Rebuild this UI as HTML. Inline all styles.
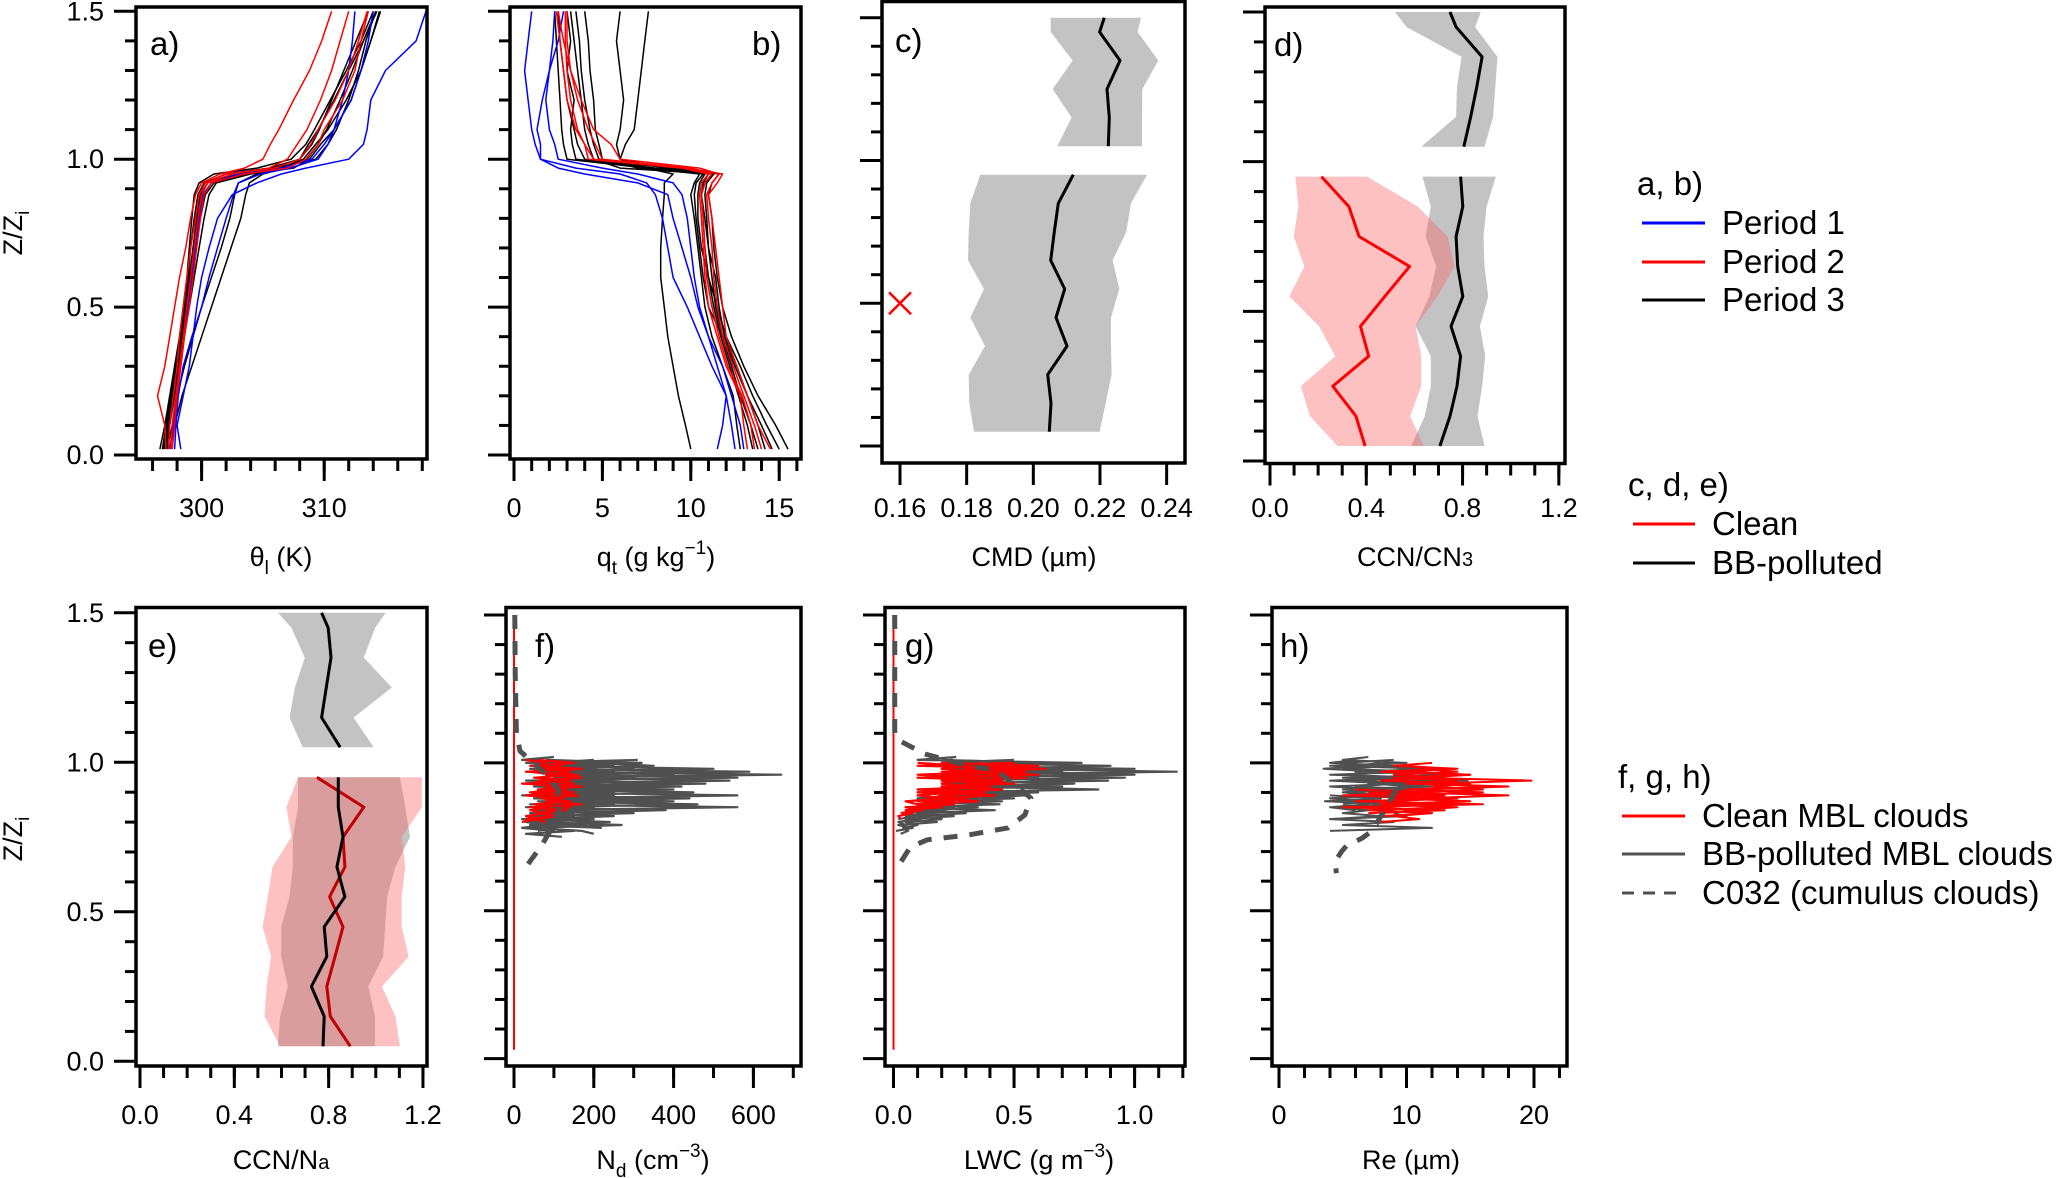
<!DOCTYPE html>
<html><head><meta charset="utf-8">
<style>
html,body{margin:0;padding:0;background:#fff;}
svg{display:block;font-family:"Liberation Sans",Arial,sans-serif;}
</style></head>
<body>
<svg id="fig" width="2067" height="1178" viewBox="0 0 2067 1178" xmlns="http://www.w3.org/2000/svg"></svg>
<script>
// ---------- DATA ----------
const zA = [0.02,0.1,0.2,0.3,0.4,0.5,0.6,0.7,0.8,0.88,0.92,0.95,0.97,1.0,1.05,1.1,1.2,1.3,1.4,1.5];
const thetaBlack = [
 [297.0,297.3,297.6,298.0,298.3,298.6,298.9,299.1,299.4,299.7,300.2,302.0,305.5,308.0,309.0,309.6,310.6,311.6,312.6,313.6],
 [296.6,297.0,297.4,297.8,298.2,298.5,298.8,299.0,299.2,299.4,299.8,301.0,304.5,307.3,308.5,309.2,310.5,311.8,313.0,314.0],
 [297.4,297.8,298.4,299.2,300.0,300.8,301.6,302.4,303.2,303.6,303.9,305.0,306.8,308.6,309.5,310.2,311.3,312.3,313.2,314.2],
 [297.2,297.6,298.0,298.6,299.3,300.0,300.8,301.6,302.3,302.7,303.0,304.5,306.5,308.3,309.3,310.3,311.8,313.0,313.8,314.5],
 [296.8,297.1,297.5,297.9,298.3,298.7,299.0,299.3,299.6,299.9,300.5,303.0,306.0,309.3,310.3,311.0,312.0,312.8,313.4,314.2],
 [297.1,297.4,297.8,298.1,298.4,298.7,299.1,299.5,299.9,300.3,301.0,303.5,307.5,308.8,309.7,310.8,312.2,313.0,313.8,314.6],
 [296.9,297.2,297.6,298.0,298.5,299.0,299.4,299.8,300.2,300.6,301.2,304.0,307.0,308.0,308.7,309.5,310.8,312.0,313.2,314.3]
];
const thetaRed = [
 [297.1,297.0,296.4,297.0,297.4,297.8,298.2,298.7,299.1,299.5,300.0,301.5,303.5,305.0,305.6,306.3,307.5,308.8,309.8,310.6],
 [297.5,297.6,297.9,298.2,298.5,298.8,299.1,299.4,299.7,300.0,300.5,302.5,305.5,307.0,307.8,308.6,309.7,310.6,311.3,312.0],
 [297.3,297.4,297.7,298.0,298.2,298.5,298.8,299.1,299.5,299.8,300.3,302.0,306.0,308.0,308.9,309.5,310.9,312.0,312.8,313.5],
 [297.6,297.8,298.0,298.3,298.6,299.0,299.3,299.6,299.9,300.2,300.8,303.5,307.0,308.5,309.5,310.0,311.5,312.5,313.0,313.6]
];
const thetaBlue = [
 [298.3,298.0,298.5,299.0,299.3,299.6,300.0,300.6,301.3,302.5,304.5,306.5,308.5,312.0,313.2,313.5,313.8,315.0,317.5,318.3],
 [297.8,297.9,298.1,298.5,299.2,300.0,300.6,301.3,302.0,302.6,303.0,304.8,307.2,309.5,310.3,310.8,311.5,312.0,312.3,312.5],
 [297.4,297.7,298.0,298.3,298.6,298.9,299.2,299.5,299.8,300.1,300.8,303.0,306.5,309.0,310.0,310.8,312.2,313.0,313.6,314.0]
];
const qBlack = [
 [15.0,14.3,13.5,12.8,12.0,11.5,11.0,10.8,10.7,10.6,10.7,11.0,8.0,3.5,3.3,3.2,3.4,3.0,3.2,3.0],
 [14.2,13.8,13.2,12.5,11.8,11.4,11.2,11.0,10.9,10.8,10.9,11.3,6.0,4.5,4.2,4.0,3.8,3.6,3.4,3.2],
 [10.0,9.7,9.3,9.0,8.7,8.5,8.3,8.3,8.4,8.5,8.5,9.0,7.5,6.0,6.3,6.8,7.0,7.2,7.4,7.6],
 [15.5,14.8,13.8,13.0,12.3,11.8,11.5,11.3,11.2,11.0,11.2,11.6,9.0,4.0,3.6,3.4,3.0,2.8,2.6,2.5],
 [13.5,13.2,12.7,12.2,11.7,11.3,11.0,10.6,10.4,10.4,10.5,10.8,7.0,5.0,4.8,4.6,4.5,4.3,4.2,4.0],
 [14.6,14.0,13.2,12.6,11.9,11.6,11.4,11.0,10.8,10.6,10.8,11.2,8.5,6.0,5.8,6.0,6.2,6.0,5.8,6.0],
 [12.8,12.6,12.4,11.8,11.2,10.8,10.6,10.4,10.2,10.0,10.2,10.5,7.5,3.0,2.8,2.7,2.6,2.5,2.4,2.3],
 [13.8,13.4,12.8,12.3,11.8,11.0,10.7,10.5,10.3,10.2,10.3,10.7,9.0,4.8,4.5,4.3,4.0,3.8,3.7,3.5]
];
const qRed = [
 [14.0,13.6,13.0,12.4,11.8,11.5,11.3,11.2,11.0,10.9,11.2,11.6,10.5,6.0,5.5,4.5,3.8,3.2,2.8,2.5],
 [13.2,13.0,12.8,12.0,11.5,11.0,10.8,10.7,10.6,10.5,10.6,11.0,9.5,4.2,4.0,3.6,3.2,3.0,2.9,2.9],
 [14.5,13.8,13.2,12.6,12.0,11.8,11.6,11.4,11.2,11.0,11.5,11.8,9.8,5.0,4.6,4.2,3.6,3.2,3.0,3.0],
 [13.6,13.4,12.9,12.1,11.6,11.2,10.9,10.8,10.7,10.6,10.8,11.2,10.0,4.5,4.0,3.5,3.0,2.8,2.6,2.4]
];
const qBlue = [
 [11.5,11.8,12.0,11.2,10.5,9.8,9.0,8.7,8.4,8.0,7.5,6.0,3.5,1.5,1.2,1.0,0.8,0.6,0.8,1.0],
 [13.0,12.8,12.3,11.8,11.0,10.4,10.0,9.5,9.0,8.7,7.0,4.0,2.5,1.5,1.5,1.3,1.6,2.0,2.2,2.3],
 [12.5,12.3,12.0,11.5,11.0,10.5,10.2,10.0,9.8,9.5,9.0,7.0,5.0,2.5,2.3,2.0,1.8,2.0,2.5,2.8]
];
const zLow = [0.05,0.15,0.25,0.35,0.45,0.55,0.65,0.75,0.85,0.95];
const zUpC = [1.05,1.15,1.25,1.35,1.45,1.5];
const cmdMeanLow = [0.2048,0.2053,0.2043,0.2101,0.2068,0.2094,0.2052,0.2063,0.2075,0.2120];
const cmdLeftLow = [0.1822,0.1808,0.1806,0.1855,0.1811,0.1852,0.1804,0.1806,0.1811,0.1841];
const cmdRightLow = [0.2199,0.2217,0.2235,0.2233,0.2233,0.2258,0.2238,0.2279,0.2293,0.2341];
const cmdMeanUp = [0.2225,0.2228,0.2221,0.2260,0.2199,0.2213];
const cmdLeftUp = [0.2072,0.2115,0.2058,0.2118,0.2052,0.2052];
const cmdRightUp = [0.2326,0.2326,0.2327,0.2375,0.2313,0.2323];
const cmdClean = [0.16];
const cmdCleanZ = [0.5];

const ccnMeanLow = [0.706,0.748,0.777,0.792,0.752,0.801,0.780,0.773,0.801,0.792];
const ccnLeftLow = [0.586,0.643,0.668,0.668,0.605,0.662,0.690,0.647,0.668,0.633];
const ccnRightLow = [0.891,0.862,0.881,0.894,0.872,0.907,0.891,0.887,0.900,0.938];
const ccnCleanMean = [0.395,0.357,0.261,0.410,0.376,0.477,0.580,0.370,0.328,0.214];
const ccnCleanLeft = [0.280,0.166,0.128,0.271,0.204,0.080,0.143,0.099,0.118,0.105];
const ccnCleanRight = [0.639,0.582,0.628,0.628,0.605,0.696,0.767,0.738,0.614,0.404];
const ccnMeanUp = [0.805,0.834,0.859,0.881,0.773,0.748];
const ccnLeftUp = [0.628,0.773,0.777,0.796,0.567,0.519];
const ccnRightUp = [0.891,0.927,0.936,0.945,0.852,0.876];

const zUpE = [1.05,1.15,1.25,1.35,1.45,1.5];
const naMeanUp = [0.849,0.770,0.790,0.810,0.798,0.770];
const naLeftUp = [0.690,0.634,0.657,0.699,0.642,0.585];
const naRightUp = [0.991,0.906,1.068,0.949,0.997,1.042];
const naMeanLow = [0.776,0.781,0.727,0.792,0.781,0.869,0.835,0.861,0.841,0.841];
const naLeftLow = [0.585,0.594,0.627,0.599,0.599,0.634,0.648,0.648,0.670,0.670];
const naRightLow = [0.997,0.997,0.968,1.031,1.040,1.048,1.083,1.145,1.125,1.102];
const naCleanMean = [0.892,0.807,0.792,0.827,0.861,0.804,0.869,0.861,0.949,0.750];
const naCleanLeft = [0.594,0.528,0.537,0.556,0.520,0.542,0.562,0.642,0.621,0.670];
const naCleanRight = [1.102,1.083,1.026,1.139,1.110,1.110,1.125,1.110,1.196,1.196];

const zCloud = [1.02,1.01,1.00,0.99,0.98,0.97,0.96,0.95,0.94,0.93,0.92,0.91,0.90,0.89,0.88,0.87,0.86,0.85,0.84,0.83,0.82,0.81,0.80,0.79,0.78,0.77,0.76,0.75];
const ndPolluted = [
 [null,80,320,60,500,30,670,100,540,40,420,70,450,20,440,60,460,30,380,40,250,20,240,50,220,null,null,null],
 [100,20,200,350,40,590,80,560,30,480,50,400,60,560,80,400,40,560,70,300,30,200,60,270,40,170,200,null],
 [null,310,30,250,150,420,100,300,200,350,60,300,120,250,50,300,150,200,60,220,100,150,40,180,60,150,30,120],
 [null,null,150,200,300,100,400,250,150,300,200,100,250,180,300,120,250,150,80,150,60,100,30,80,20,100,60,null],
 [null,200,100,180,80,250,120,200,90,150,300,80,200,100,150,200,60,150,100,50,150,80,120,40,100,60,null,null]
];
const ndClean = [
 [null,60,150,40,170,30,160,50,140,20,170,60,150,30,120,80,170,40,130,60,100,30,null,null,null,null,null,null],
 [null,null,100,120,60,140,90,170,60,150,100,130,50,160,90,120,60,140,90,70,110,50,80,null,null,null,null,null],
 [null,30,80,60,110,40,100,70,120,50,90,110,40,100,70,140,50,90,40,80,30,60,20,null,null,null,null,null]
];
const ndCumZ = [1.5,1.3,1.1,1.04,0.97,0.91,0.85,0.78,0.72,0.645];
const ndCum = [2,3,6,15,73,111,115,95,69,28];

const lwcPolluted = [
 [0.26,0.1,0.78,0.2,1.0,0.3,0.9,0.1,0.89,0.2,0.7,0.1,0.6,0.2,0.5,0.1,0.44,0.05,0.42,0.1,0.25,0.05,0.18,0.02,0.08,0.01,null,null],
 [null,0.5,0.2,0.9,0.4,1.175,0.3,0.96,0.2,0.75,0.3,0.85,0.1,0.55,0.2,0.45,0.1,0.35,0.15,0.3,0.1,0.2,0.05,0.1,0.04,0.06,0.03,null],
 [null,0.2,0.6,0.3,0.8,0.5,1.0,0.3,0.7,0.4,0.5,0.3,0.45,0.2,0.35,0.3,0.2,0.25,0.1,0.15,0.05,0.1,0.02,0.05,null,null,null,null],
 [null,null,0.4,0.6,0.2,0.7,0.4,0.6,0.3,0.5,0.2,0.4,0.3,0.35,0.1,0.25,0.15,0.1,0.2,0.05,0.1,0.02,null,null,null,null,null,null]
];
const lwcClean = [
 [null,null,0.5,0.1,0.63,0.2,0.6,0.1,0.45,0.3,0.4,0.1,0.38,0.2,0.3,0.1,0.25,0.05,0.12,0.03,null,null,null,null,null,null,null,null],
 [null,null,0.2,0.6,0.3,0.55,0.2,0.55,0.3,0.5,0.2,0.45,0.1,0.42,0.2,0.35,0.1,0.2,0.05,0.08,0.02,0.03,null,null,null,null,null,null],
 [null,null,0.35,0.4,0.5,0.3,0.45,0.35,0.2,0.4,0.3,0.25,0.3,0.2,0.15,0.25,0.1,0.15,0.05,null,null,null,null,null,null,null,null,null],
 [null,null,0.1,0.3,0.2,0.4,0.1,0.3,0.25,0.2,0.35,0.15,0.25,0.1,0.2,0.05,0.1,null,null,null,null,null,null,null,null,null,null,null]
];
const lwcCumZ = [1.5,1.3,1.1,1.077,1.03,0.99,0.976,0.93,0.881,0.824,0.78,0.756,0.74,0.716,0.638];
const lwcCum = [0.005,0.005,0.005,0.02,0.13,0.31,0.42,0.5,0.57,0.545,0.475,0.31,0.14,0.07,0.01];

const rePolluted = [
 [null,6,4,9,5,11,4,12,6,10,4,8,5,9,4,7,5,null,null,null,null,null,null,null,null,null,null,null],
 [7,5,10,4,12,6,14,5,13,7,11,5,9,6,10,null,null,null,null,null,null,null,null,null,null,null,null,null],
 [null,null,8,6,11,8,13,9,14.8,8,12,7,10,6,8,5,7,4,6,null,null,null,null,null,null,null,null,null],
 [null,null,null,null,null,null,null,null,null,null,null,null,null,null,null,null,null,null,null,9,10,4,9,5,12,4,null,null],
 [null,9,5,7,3.5,8,5,10,4,9,6,11,5,8,4,null,null,null,null,null,null,null,null,null,null,null,null,null],
 [null,null,null,null,null,null,null,null,null,null,null,null,null,4,8,3.6,9,4.5,7,5,8,4,null,null,null,null,null,null]
];
const reClean = [
 [null,null,12,9,14,10,15,11,19.8,12,17,10,16,9,14,8,13,7,12,null,null,null,null,null,null,null,null,null],
 [null,null,null,10,13,8,15,9,14,10,18,11,15,9,13,8,12,7,11,8,null,null,null,null,null,null,null,null],
 [null,null,null,null,11,14,9,13,8,15,12,16,10,18,11,14,9,13,7,12,8,null,null,null,null,null,null,null],
 [null,null,null,null,null,null,null,null,null,null,null,null,7,13,9,15,8,14,10,12,9,11,8,null,null,null,null,null],
 [null,null,null,null,null,null,null,null,null,null,null,6,12,5,14,6,16,5,13,7,null,null,null,null,null,null,null,null]
];
const reCumZ = [0.91,0.87,0.77,0.745,0.72,0.70,0.666,0.627];
const reCum = [9.2,8.7,7.3,6.5,5.3,4.9,4.4,4.5];

const baseZ = [0.03,1.49];
const baseV = [0,0];

const zTickLabels = ['0.0','0.5','1.0','1.5'];
const ticksA = [300,310]; const ticksB = [0,5,10,15];
const ticksC = [0.16,0.18,0.20,0.22,0.24];
const ticksD = [0.0,0.4,0.8,1.2]; const ticksE = [0.0,0.4,0.8,1.2];
const ticksF = [0,200,400,600]; const ticksG = [0.0,0.5,1.0]; const ticksH = [0,10,20];

// ---------- GEOMETRY ----------
const P = {
 a:{x1:136,y1:7,x2:427,y2:459,y0:455,y15:11.3,xo:201.6,xv:300,xs:12.26,minor:[296,318,2],dec:0},
 b:{x1:510,y1:7,x2:801,y2:459,y0:455,y15:11.3,xo:514,xv:0,xs:17.68,minor:[0,16,1],dec:0},
 c:{x1:882,y1:1.5,x2:1185,y2:463,y0:446,y15:17.7,xo:900,xv:0.16,xs:3333,minor:null,dec:2},
 d:{x1:1265,y1:7,x2:1565,y2:463.5,y0:461,y15:12,xo:1270,xv:0,xs:240.7,minor:[0,1.2,0.1],dec:1},
 e:{x1:136,y1:607.5,x2:427,y2:1066,y0:1061.3,y15:612.8,xo:140,xv:0,xs:235.8,minor:[0,1.2,0.1],dec:1},
 f:{x1:506,y1:607.5,x2:801,y2:1066,y0:1058.6,y15:615,xo:514,xv:0,xs:0.399,minor:[0,700,100],dec:0},
 g:{x1:885,y1:607.5,x2:1185,y2:1066,y0:1058.6,y15:615,xo:893.5,xv:0,xs:241.1,minor:[0,1.2,0.1],dec:1},
 h:{x1:1272,y1:607.5,x2:1567,y2:1066,y0:1058.6,y15:615,xo:1279,xv:0,xs:12.75,minor:[0,22,2],dec:0}
};
const NS='http://www.w3.org/2000/svg';
const svg=document.getElementById('fig');
function mk(tag,parent,attrs){const e=document.createElementNS(NS,tag);for(const k in attrs)e.setAttribute(k,attrs[k]);parent.appendChild(e);return e;}
function X(p,v){return p.xo+(v-p.xv)*p.xs;}
function Y(p,z){return p.y0-(z/1.5)*(p.y0-p.y15);}
function linePath(p,zs,vs){let d='',pen=false;for(let i=0;i<zs.length;i++){const v=vs[i];if(v===null||v===undefined){pen=false;continue;}d+=(pen?'L':'M')+X(p,v).toFixed(1)+' '+Y(p,zs[i]).toFixed(1);pen=true;}return d;}
function bandPath(p,zs,l,r){let d='';for(let i=0;i<zs.length;i++)d+=(i?'L':'M')+X(p,l[i]).toFixed(1)+' '+Y(p,zs[i]).toFixed(1);for(let i=zs.length-1;i>=0;i--)d+='L'+X(p,r[i]).toFixed(1)+' '+Y(p,zs[i]).toFixed(1);return d+'Z';}

function axes(key,g,ticks,isLeftLabeled,labelY){
 const p=P[key];
 const cp=mk('clipPath',g,{id:'clip-'+key});
 mk('rect',cp,{x:p.x1,y:p.y1,width:p.x2-p.x1,height:p.y2-p.y1});
 const yt=mk('g',g,{stroke:'#000','stroke-width':3});
 
 
 for(let i=0;i<=15;i++){const y=Y(p,i/10);const major=(i%5===0);mk('line',yt,{x1:p.x1-(major?22:11),x2:p.x1-1,y1:y,y2:y});}
 if(isLeftLabeled){
  for(let i=0;i<zTickLabels.length;i++){const t=mk('text',g,{x:p.x1-32,y:Y(p,i*0.5)+9,'font-size':27,'text-anchor':'end',fill:'#000'});t.textContent=zTickLabels[i];
   
   }
 }
 const xt=mk('g',g,{stroke:'#000','stroke-width':3});
 
 
 if(p.minor){for(let v=p.minor[0];v<=p.minor[1]+1e-9;v+=p.minor[2]){mk('line',xt,{x1:X(p,v),x2:X(p,v),y1:p.y2+1,y2:p.y2+12});}}
 for(const v of ticks){mk('line',xt,{x1:X(p,v),x2:X(p,v),y1:p.y2+1,y2:p.y2+22});
  const t=mk('text',g,{x:X(p,v),y:labelY,'font-size':27,'text-anchor':'middle',fill:'#000'});t.textContent=v.toFixed(p.dec);
  
  }
}
function frame(key,g){const p=P[key];const r=mk('rect',g,{x:p.x1,y:p.y1,width:p.x2-p.x1,height:p.y2-p.y1,fill:'none',stroke:'#000','stroke-width':3.5});
 
 }
function panelLabel(g,txt,x,y){const t=mk('text',g,{x:x,y:y,'font-size':33,fill:'#000'});t.textContent=txt;
 
 }
function title(g,html,x,y){const t=mk('text',g,{x:x,y:y,'font-size':27,'text-anchor':'middle',fill:'#000'});t.innerHTML=html;
 
 }
function plotLines(key,g,zs,arr,color,w,name,extra){const p=P[key];const gg=mk('g',g,{'clip-path':'url(#clip-'+key+')',fill:'none',stroke:color,'stroke-width':w,'stroke-linejoin':'round'});
 
 
 for(const vs of arr){const path=mk('path',gg,{d:linePath(p,zs,vs)});if(extra)for(const k in extra)path.setAttribute(k,extra[k]);
  
  }}
function band(key,g,zs,l,r,fill,name){const p=P[key];const b=mk('path',g,{d:bandPath(p,zs,l,r),fill:fill,stroke:'none','clip-path':'url(#clip-'+key+')'});
 
 }

const GRAY='rgba(170,170,170,0.7)', PINK='rgba(252,100,100,0.4)';
const TOP_LBL=517, TOP_TTL=566, BOT_LBL=1124, BOT_TTL=1169;

let g=mk('g',svg,{});


axes('a',g,ticksA,true,TOP_LBL);
plotLines('a',g,zA,thetaBlack,'#000',1.5,'theta-period-3');
plotLines('a',g,zA,thetaBlue,'#0000ff',1.5,'theta-period-1');
plotLines('a',g,zA,thetaRed,'#ff0000',1.5,'theta-period-2');
frame('a',g); panelLabel(g,'a)',150,55);
title(g,'θ<tspan font-size="19" dy="8">l</tspan><tspan dy="-8"> (K)</tspan>',281,TOP_TTL);

g=mk('g',svg,{});


axes('b',g,ticksB,false,TOP_LBL);
plotLines('b',g,zA,qBlack,'#000',1.5,'qt-period-3');
plotLines('b',g,zA,qBlue,'#0000ff',1.5,'qt-period-1');
plotLines('b',g,zA,qRed,'#ff0000',1.5,'qt-period-2');
frame('b',g); panelLabel(g,'b)',752,55);
title(g,'q<tspan font-size="19" dy="8">t</tspan><tspan dy="-8"> (g kg</tspan><tspan font-size="19" dy="-12">−1</tspan><tspan dy="12">)</tspan>',656,TOP_TTL);

g=mk('g',svg,{});


axes('c',g,ticksC,false,TOP_LBL);
band('c',g,zLow,cmdLeftLow,cmdRightLow,GRAY,'cmd-polluted-band-low');
band('c',g,zUpC,cmdLeftUp,cmdRightUp,GRAY,'cmd-polluted-band-up');
plotLines('c',g,zLow,[cmdMeanLow],'#000',3,'cmd-polluted-mean-low');
plotLines('c',g,zUpC,[cmdMeanUp],'#000',3,'cmd-polluted-mean-up');
for(let i=0;i<cmdClean.length;i++){const p=P.c;const cx=X(p,cmdClean[i]),cy=Y(p,cmdCleanZ[i]);
 const m=mk('path',g,{d:`M${cx-11} ${cy-11}L${cx+11} ${cy+11}M${cx-11} ${cy+11}L${cx+11} ${cy-11}`,stroke:'#ff0000','stroke-width':2.5,fill:'none'});
 
 }
frame('c',g); panelLabel(g,'c)',895,52);
title(g,'CMD (µm)',1034,TOP_TTL);

g=mk('g',svg,{});


axes('d',g,ticksD,false,TOP_LBL);
band('d',g,zLow,ccnLeftLow,ccnRightLow,GRAY,'ccn-polluted-band-low');
band('d',g,zUpC,ccnLeftUp,ccnRightUp,GRAY,'ccn-polluted-band-up');
band('d',g,zLow,ccnCleanLeft,ccnCleanRight,PINK,'ccn-clean-band');
plotLines('d',g,zLow,[ccnMeanLow],'#000',3,'ccn-polluted-mean-low');
plotLines('d',g,zUpC,[ccnMeanUp],'#000',3,'ccn-polluted-mean-up');
plotLines('d',g,zLow,[ccnCleanMean],'#ff0000',3,'ccn-clean-mean');
frame('d',g); panelLabel(g,'d)',1274,56);
title(g,'CCN/CN<tspan font-size="20">3</tspan>',1415,TOP_TTL);

g=mk('g',svg,{});


axes('e',g,ticksE,true,BOT_LBL);
band('e',g,zUpE,naLeftUp,naRightUp,GRAY,'na-polluted-band-up');
band('e',g,zLow,naLeftLow,naRightLow,GRAY,'na-polluted-band-low');
band('e',g,zLow,naCleanLeft,naCleanRight,PINK,'na-clean-band');
plotLines('e',g,zUpE,[naMeanUp],'#000',3,'na-polluted-mean-up');
plotLines('e',g,zLow,[naCleanMean],'#c00000',3,'na-clean-mean');
plotLines('e',g,zLow,[naMeanLow],'#000',3,'na-polluted-mean-low');
frame('e',g); panelLabel(g,'e)',148,657);
title(g,'CCN/N<tspan font-size="20">a</tspan>',281,BOT_TTL);

g=mk('g',svg,{});


axes('f',g,ticksF,false,BOT_LBL);
plotLines('f',g,zCloud,ndPolluted,'#505050',2.2,'nd-polluted');
plotLines('f',g,zCloud,ndClean,'#ff0000',2.2,'nd-clean');
plotLines('f',g,baseZ,[baseV],'#ff0000',2,'nd-clean-baseline');
plotLines('f',g,ndCumZ,[ndCum],'#505050',5,'nd-c032',{'stroke-dasharray':'14 12'});
frame('f',g); panelLabel(g,'f)',535,657);
title(g,'N<tspan font-size="19" dy="8">d</tspan><tspan dy="-8"> (cm</tspan><tspan font-size="19" dy="-12">−3</tspan><tspan dy="12">)</tspan>',653,BOT_TTL);

g=mk('g',svg,{});


axes('g',g,ticksG,false,BOT_LBL);
plotLines('g',g,zCloud,lwcPolluted,'#505050',2.2,'lwc-polluted');
plotLines('g',g,zCloud,lwcClean,'#ff0000',2.2,'lwc-clean');
plotLines('g',g,baseZ,[baseV],'#ff0000',2,'lwc-clean-baseline');
plotLines('g',g,lwcCumZ,[lwcCum],'#505050',5,'lwc-c032',{'stroke-dasharray':'14 12'});
frame('g',g); panelLabel(g,'g)',905,657);
title(g,'LWC (g m<tspan font-size="19" dy="-12">−3</tspan><tspan dy="12">)</tspan>',1039,BOT_TTL);

g=mk('g',svg,{});


axes('h',g,ticksH,false,BOT_LBL);
plotLines('h',g,zCloud,rePolluted,'#505050',2,'re-polluted');
plotLines('h',g,zCloud,reClean,'#ff0000',2,'re-clean');
plotLines('h',g,reCumZ,[reCum],'#505050',5,'re-c032',{'stroke-dasharray':'14 12'});
frame('h',g); panelLabel(g,'h)',1280,657);
title(g,'Re (µm)',1411,BOT_TTL);

for(const yc of [233,839]){const t=mk('text',svg,{x:0,y:0,'font-size':27,'text-anchor':'middle',transform:`translate(22,${yc}) rotate(-90)`});
 t.innerHTML='Z/Z<tspan font-size="19" dy="7">i</tspan>';
 
 }

function legHead(txt,x,y){const t=mk('text',svg,{x:x,y:y,'font-size':33,fill:'#000'});t.textContent=txt;
 
 }
function legEntry(txt,x1,x2,tx,y,color,dash){const gg=mk('g',svg,{});
 
 
 const l=mk('line',gg,{x1:x1,x2:x2,y1:y,y2:y,stroke:color,'stroke-width':3});if(dash)l.setAttribute('stroke-dasharray',dash);
 const t=mk('text',gg,{x:tx,y:y+11,'font-size':33,fill:'#000'});t.textContent=txt;}
legHead('a, b)',1637,195);
legEntry('Period 1',1642,1705,1722,223,'#0000ff');
legEntry('Period 2',1642,1705,1722,262,'#ff0000');
legEntry('Period 3',1642,1705,1722,300,'#000');
legHead('c, d, e)',1628,496);
legEntry('Clean',1633,1695,1712,524,'#ff0000');
legEntry('BB-polluted',1633,1695,1712,563,'#000');
legHead('f, g, h)',1618,788);
legEntry('Clean MBL clouds',1622,1685,1702,816,'#ff0000');
legEntry('BB-polluted MBL clouds',1622,1685,1702,854,'#505050');
legEntry('C032 (cumulus clouds)',1622,1685,1702,893,'#505050','12 9');
</script>
</body></html>
